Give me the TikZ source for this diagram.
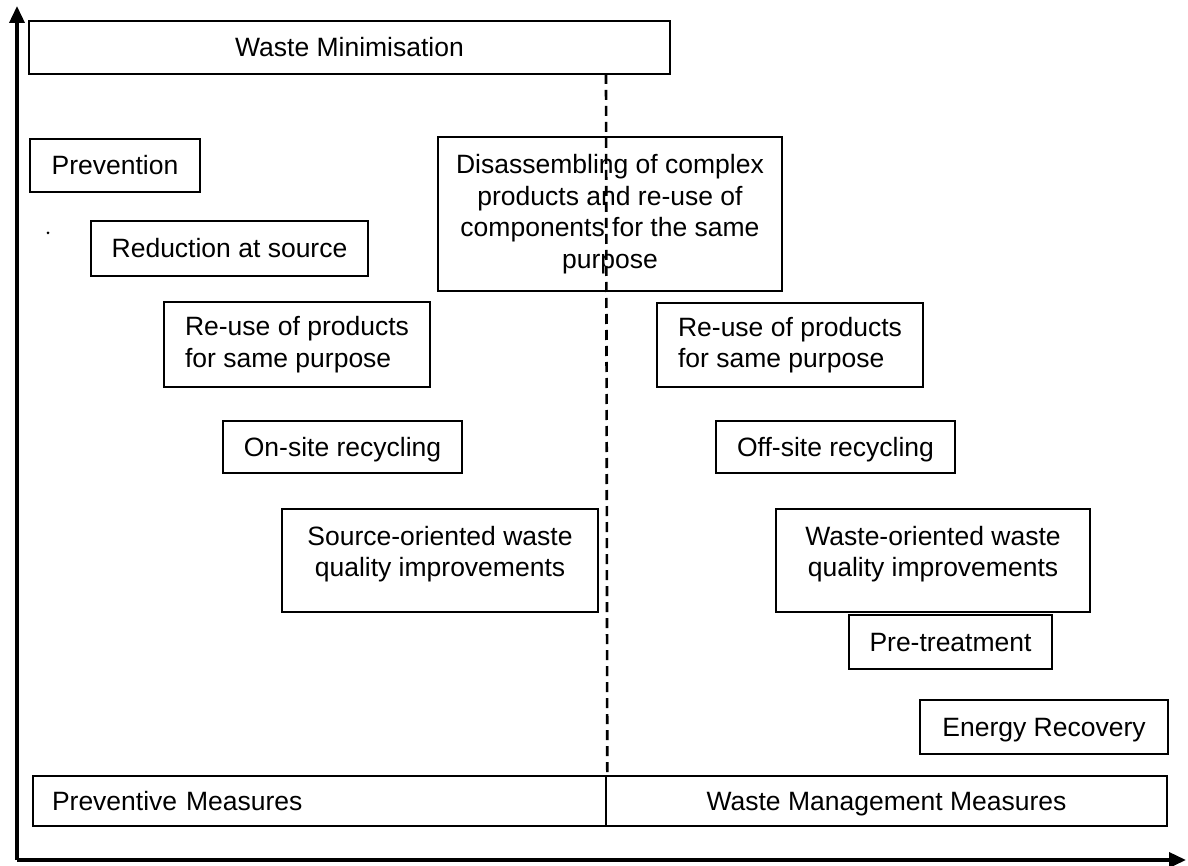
\documentclass[tikz,border=0pt]{standalone}
\usepackage{fontspec}
\setmainfont{Liberation Sans}
\usetikzlibrary{arrows.meta}
\begin{document}
\begin{tikzpicture}[x=1pt,y=-1pt,
  box/.style={draw=black, line width=2.6pt, inner sep=0pt, align=center,
    font=\fontsize{26.5}{31.5}\selectfont},
  oneline/.style={text height=19pt, text depth=0pt},
  txt/.style={inner sep=0pt, align=center, font=\fontsize{26.5}{31.5}\selectfont},
  axis/.style={line width=3.5pt, -{Triangle[length=17pt,width=15pt]}},
  divider/.style={line width=2.6pt, dash pattern=on 10pt off 6pt}]
\useasboundingbox[fill=white] (0,0) rectangle (1188,866);
% boxes
\node[box, oneline, minimum width=641pt, minimum height=53pt] (wm) at (349.5,47.5) {Waste Minimisation};
\node[box, oneline, minimum width=170pt, minimum height=53pt] (prev) at (115,165.5) {Prevention};
\node[box, oneline, minimum width=277pt, minimum height=55pt] (red) at (229.5,248.5) {Reduction at source};
\node[box, fill=white, minimum width=344pt, minimum height=154pt] (dis) at (610,214) {Disassembling of complex\\products and re-use of\\components for the same\\purpose};
\node[box, align=left, minimum width=266pt, minimum height=85pt] (reuseL) at (297,344.5) {Re-use of products\\for same purpose};
\node[box, align=left, minimum width=266pt, minimum height=84pt] (reuseR) at (790,345) {Re-use of products\\for same purpose};
\node[box, oneline, minimum width=239pt, minimum height=52pt] (onsite) at (342.5,447) {On-site recycling};
\node[box, oneline, minimum width=239pt, minimum height=52pt] (offsite) at (835.5,447) {Off-site recycling};
\node[box, minimum width=316pt, minimum height=103pt] (srcq) at (440,560.5) {};
\node[txt, yshift=6.5pt] (srcqt) at (srcq.center) {Source-oriented waste\\quality improvements};
\node[box, minimum width=314pt, minimum height=103pt] (wasteq) at (933,560.5) {};
\node[txt, yshift=6.5pt] (wasteqt) at (wasteq.center) {Waste-oriented waste\\quality improvements};
\node[box, oneline, minimum width=203pt, minimum height=54pt] (pretreat) at (950.5,642) {Pre-treatment};
\node[box, oneline, minimum width=248pt, minimum height=54pt] (energy) at (1044,727) {Energy Recovery};
\node[box, oneline, align=left, text width=535pt, inner xsep=19pt, minimum height=50pt] (pm) at (319.5,801) {Preventive Measures};
\node[box, oneline, minimum width=561pt, minimum height=50pt] (wmm) at (886.5,801) {Waste Management Measures};
% dashed divider
\coordinate (dtop) at (606,74);
\draw[divider] (dtop) -- (pm.north east);
% axes
\coordinate (origin) at (17,860);
\coordinate (ytop) at (17,6);
\coordinate (xend) at (1186,860);
\draw[axis] (origin) -- (ytop);
\draw[axis] (origin) -- (xend);
% small speck
\fill (48,233) circle (1.5pt);
\end{tikzpicture}
\end{document}
